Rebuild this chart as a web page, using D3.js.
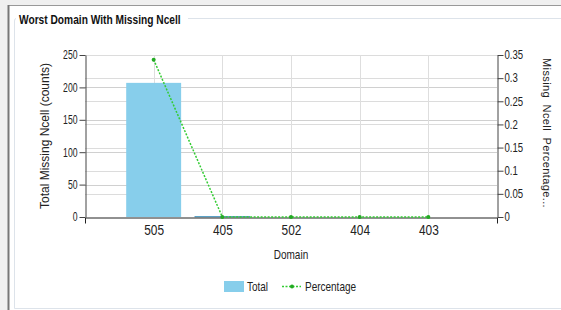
<!DOCTYPE html>
<html>
<head>
<meta charset="utf-8">
<script src="https://cdn.jsdelivr.net/npm/d3@7"></script>
<style>
  body { margin: 0; background: #f0f0f0; }
  svg { display: block; }
</style>
</head>
<body>
<div id="chart"></div>
<script>
  // chart values
  const domains = ["505", "405", "502", "404", "403"];
  const totals = [207, 1, 0, 0, 0];
  const percentages = [0.34, 0, 0, 0, 0];
  const leftTicks = [0, 50, 100, 150, 200, 250];
  const rightTicks = [0, 0.05, 0.1, 0.15, 0.2, 0.25, 0.3, 0.35];

  const width = 561, height = 310;
  const margin = { top: 55, bottom: 93, left: 85, right: 64 };
  const font = "'Liberation Sans', Arial, sans-serif";

  // squeeze text horizontally, the original uses a narrow face
  function narrow(sel, s) {
    sel.each(function () {
      const t = d3.select(this);
      const xv = +(t.attr("x") || 0);
      t.attr("x", xv / s).attr("transform", `scale(${s},1)`);
    });
  }

  const svg = d3.select("#chart").append("svg")
    .attr("width", width)
    .attr("height", height);

  // panel frame
  svg.append("rect").attr("x", 9).attr("y", 6).attr("width", width - 9).attr("height", height - 6)
    .attr("fill", "#fff");
  svg.append("line").attr("x1", 8).attr("x2", width).attr("y1", 5.5).attr("y2", 5.5)
    .attr("stroke", "#999").attr("stroke-width", 1);
  svg.append("line").attr("x1", 8.5).attr("x2", 8.5).attr("y1", 5).attr("y2", height)
    .attr("stroke", "#777").attr("stroke-width", 2);

  // fieldset-like border
  svg.append("path")
    .attr("d", "M16,18.5 Q14.5,18.5 14.5,21 L14.5,308.5 L" + width + ",308.5")
    .attr("fill", "none").attr("stroke", "#dde3ea");
  svg.append("line").attr("x1", 188).attr("x2", width).attr("y1", 18.5).attr("y2", 18.5)
    .attr("stroke", "#dde3ea");

  const title = svg.append("text")
    .attr("x", 19).attr("y", 24)
    .attr("font-family", font)
    .attr("font-weight", "bold").attr("font-size", 12)
    .attr("fill", "#111")
    .text("Worst Domain With Missing Ncell");
  narrow(title, 0.85);

  const x0 = margin.left, x1 = width - margin.right;
  const y0 = height - margin.bottom, y1 = margin.top;

  const x = d3.scalePoint().domain(domains).range([x0, x1]).padding(1);
  const yLeft = d3.scaleLinear().domain([0, 250]).range([y0, y1]);
  const yRight = d3.scaleLinear().domain([0, 0.35]).range([y0, y1]);

  const grid = svg.append("g");
  grid.selectAll(".gl").data(leftTicks.slice(1)).join("line")
    .attr("x1", x0).attr("x2", x1)
    .attr("y1", d => Math.round(yLeft(d)) + 0.5).attr("y2", d => Math.round(yLeft(d)) + 0.5)
    .attr("stroke", "#d0d0d0");
  grid.selectAll(".gr").data(rightTicks.slice(1)).join("line")
    .attr("x1", x0).attr("x2", x1)
    .attr("y1", d => Math.round(yRight(d)) + 0.5).attr("y2", d => Math.round(yRight(d)) + 0.5)
    .attr("stroke", "#dcdcdc");
  grid.selectAll(".gv").data(domains).join("line")
    .attr("x1", d => Math.round(x(d)) + 0.5).attr("x2", d => Math.round(x(d)) + 0.5)
    .attr("y1", y1).attr("y2", y0)
    .attr("stroke", "#dedede");

  // bars
  const barW = x.step() * 0.8;
  svg.append("g").selectAll("rect").data(domains).join("rect")
    .attr("x", d => x(d) - barW / 2)
    .attr("width", barW)
    .attr("y", (d, i) => yLeft(totals[i]))
    .attr("height", (d, i) => y0 - yLeft(totals[i]))
    .attr("fill", "#87ceeb")
    .attr("stroke", (d, i) => totals[i] > 0 && totals[i] < 5 ? "#3f8fb8" : "none")
    .attr("stroke-width", 0.5);

  // axes
  const gL = svg.append("g").attr("transform", `translate(${x0 + 0.5},0)`)
    .call(d3.axisLeft(yLeft).tickValues(leftTicks).tickSize(6).tickSizeOuter(0).tickPadding(2));
  const gR = svg.append("g").attr("transform", `translate(${x1 + 0.5},0)`)
    .call(d3.axisRight(yRight).tickValues(rightTicks).tickSize(6).tickSizeOuter(0).tickPadding(1)
      .tickFormat(d => d3.format("")(+d.toFixed(2))));
  const gB = svg.append("g").attr("transform", `translate(0,${y0 + 0.5})`)
    .call(d3.axisBottom(x).tickSizeInner(0).tickSizeOuter(6).tickPadding(8));

  [gL, gR].forEach(g => {
    g.selectAll("path, line").attr("stroke", "#444");
    g.selectAll("text").attr("font-family", font).attr("font-size", 12).attr("fill", "#222");
  });
  narrow(gL.selectAll("text"), 0.72);
  narrow(gR.selectAll("text"), 0.8);
  gB.select(".domain").attr("stroke", "#222");
  gB.selectAll("text").attr("font-family", font).attr("font-size", 14).attr("fill", "#222");
  narrow(gB.selectAll("text"), 0.85);

  // percentage line
  const line = d3.line().x(d => x(d.k)).y(d => yRight(d.v));
  const pts = domains.map((k, i) => ({ k: k, v: percentages[i] }));
  svg.append("path").datum(pts)
    .attr("d", line)
    .attr("fill", "none")
    .attr("stroke", "#33cc33")
    .attr("stroke-width", 1.5)
    .attr("stroke-dasharray", "2,1.5");
  svg.append("g").selectAll("circle").data(pts).join("circle")
    .attr("cx", d => x(d.k)).attr("cy", d => yRight(d.v))
    .attr("r", 2).attr("fill", "#22aa22");

  // axis titles
  svg.append("text")
    .attr("transform", `translate(49,${(y0 + y1) / 2}) rotate(-90)`)
    .attr("text-anchor", "middle")
    .attr("font-family", font)
    .attr("font-size", 12).attr("fill", "#222")
    .text("Total Missing Ncell (counts)");
  svg.append("text")
    .attr("transform", `translate(543,58) rotate(90)`)
    .attr("font-family", font)
    .attr("font-size", 11).attr("fill", "#222")
    .attr("letter-spacing", 0.4).attr("word-spacing", 3)
    .text("Missing Ncell Percentage...");
  const dl = svg.append("text")
    .attr("x", (x0 + x1) / 2).attr("y", 259)
    .attr("text-anchor", "middle")
    .attr("font-family", font)
    .attr("font-size", 12.5).attr("fill", "#222")
    .text("Domain");
  narrow(dl, 0.8);

  // legend
  const lg = svg.append("g").attr("transform", "translate(224,281)");
  lg.append("rect").attr("width", 20).attr("height", 11).attr("fill", "#87ceeb");
  lg.append("text").attr("x", 23).attr("y", 10)
    .attr("font-family", font).attr("font-size", 12.5).attr("fill", "#222").text("Total");
  lg.append("line").attr("x1", 58).attr("x2", 77).attr("y1", 5.5).attr("y2", 5.5)
    .attr("stroke", "#33cc33").attr("stroke-width", 1.5).attr("stroke-dasharray", "2,1.5");
  lg.append("circle").attr("cx", 68).attr("cy", 5.5).attr("r", 2).attr("fill", "#22aa22");
  lg.append("text").attr("x", 81).attr("y", 10)
    .attr("font-family", font).attr("font-size", 12.5).attr("fill", "#222").text("Percentage");
  narrow(lg.selectAll("text"), 0.8);
</script>
</body>
</html>
